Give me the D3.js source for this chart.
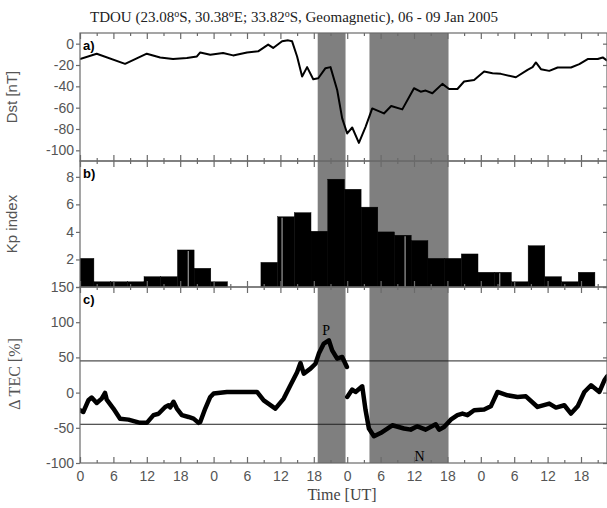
<!DOCTYPE html>
<html>
<head>
<meta charset="utf-8">
<script src="https://cdn.jsdelivr.net/npm/d3@7"></script>
<style>
  body { margin: 0; background: #fff; }
  svg { display: block; }
  .tick text { font-family: "Liberation Sans", Arial, sans-serif; font-size: 14px; fill: #555; }
</style>
</head>
<body>
<div id="chart"></div>
<script>
// Dst index [nT], hours since 06 Jan 00 UT
var dstHours = [0, 3, 8.1, 12, 14.4, 16.7, 19.2, 21, 21.6, 23.4, 25.7, 27.5, 30, 32, 33.8, 34.7, 36.3, 37.4, 38.1,
  39, 39.9, 40.8, 41.9, 42.8, 44.1, 45, 46.2, 47.1, 48, 48.9, 50.1, 51.3, 52.5, 54.6, 55.9, 57.9, 60, 61.2, 62.1,
  63.3, 65.1, 66.3, 67.8, 69, 70.8, 72.6, 74.1, 75.6, 78.3, 80.4, 81.3, 81.9, 82.8, 84.3, 85.8, 88.2, 89.7, 91.2,
  93, 93.9, 94.7];
var dstValues = [-14.4, -9.4, -18.9, -9.4, -12.9, -14.4, -13.5, -12, -8.2, -10.4, -8.8, -11, -8.2, -7.2, -0.9, -4, 2.2, 3.1, 2.2,
  -12, -30.8, -22, -33.3, -32.4, -23, -22, -43.4, -70, -84.2, -78.6, -93, -78, -60.7, -65.4, -58.5, -61.6, -41.8, -45, -44,
  -46.5, -37.7, -42.5, -42.5, -35.5, -34, -26, -27.7, -28.3, -31.5, -24.5, -22, -17.6, -23.9, -25.5, -22.3, -22.3, -19.2, -14.4,
  -14.4, -12.9, -16];

// Kp index, one value per 3-hour interval
var kpValues = [2.08, 0.38, 0.38, 0.38, 0.75, 0.75, 2.69, 1.36, 0.38, 0, 0, 1.79, 5.1, 5.4, 4.05, 7.83, 7.1, 5.8,
  4.0, 3.76, 3.37, 2.08, 2.08, 2.4, 1.07, 1.07, 0.38, 3.0, 0.75, 0.38, 1.07, 0];
var kpSeamHours = [19.45, 36.3, 58.4, 75.4];

// TEC deviation [%]; null splits the series at the data gap
var tecHours = [0, 0.6, 1.5, 2.1, 3, 3.9, 4.5, 4.8, 6, 7.2, 8.7, 10.8, 12, 13.2, 14.1, 15.3, 15.9, 16.2, 16.8, 17.4,
  18.3, 19.5, 20.4, 21.3, 21.6, 22.5, 23.4, 24, 26.4, 28.8, 31.8, 33, 35.1, 36.6, 37.8, 39, 39.6, 40.2, 41.4, 42.3,
  42.9, 43.8, 44.7, 45.3, 46.2, 47.1, 47.95, 47.97, 48, 48.9, 49.5, 50.7, 51.3, 51.9, 52.8, 54, 56.1, 58.2, 59.4, 60.6,
  62.1, 63.9, 64.5, 65.4, 66.6, 67.8, 68.7, 69.6, 70.8, 72.6, 73.8, 75, 76.8, 78.6, 80.1, 82.2, 84.3, 85.5, 87,
  88.2, 89.4, 90.6, 91.8, 93.3, 94.2, 94.7];
var tecValues = [-25, -27.5, -11, -7, -14.7, -8.5, -0.5, -10, -22.7, -37, -38.4, -43, -43, -32, -30, -20.4, -18, -21, -13, -22.7,
  -32, -34.6, -37, -43, -41.7, -22.7, -6.2, -1.4, 0.9, 0.9, 0.9, -11, -22.7, -8.5, 10.4, 29, 42, 27, 34, 41,
  55.4, 69.6, 74.3, 60, 48.3, 50.6, 36.4, null, -6.2, 4.3, 0.9, 9, -25, -51, -62, -57.4, -46.4, -51, -52.6, -47.9,
  -52.6, -45, -52.6, -48.9, -38.4, -32, -29.8, -32, -25, -24.1, -19.5, 0.9, -3.8, -6.2, -5.3, -20.4, -15.6, -21.3, -18,
  -29.8, -19.5, 0.9, 10.4, 0.9, 17.5, 23];
var tecThresholds = [45, -45];

// storm phases shaded in grey [start hour, end hour]
var shadeStart = [42.7, 52];
var shadeEnd = [47.7, 66.2];

var dstTicks = [0, -20, -40, -60, -80, -100];
var kpTicks = [0, 2, 4, 6, 8];
var tecTicks = [-100, -50, 0, 50, 100, 150];

var W = 607, H = 508;
var left = 80, right = 607;
var frameColor = "#6a6a6a";

var svg = d3.select("#chart").append("svg")
    .attr("width", W)
    .attr("height", H);

var x = d3.scaleLinear().domain([0, 94.67]).range([left, right]);

var panels = [
    { id: "a", top: 33, bottom: 161, y: d3.scaleLinear().domain([-110, 10]).range([161, 33]), ticks: dstTicks },
    { id: "b", top: 161, bottom: 287, y: d3.scaleLinear().domain([0, 9.15]).range([287, 161]), ticks: kpTicks },
    { id: "c", top: 287, bottom: 463, y: d3.scaleLinear().domain([-100, 150]).range([463, 287]), ticks: tecTicks }
];

svg.append("defs").append("clipPath")
    .attr("id", "plotClip")
    .append("rect")
    .attr("x", left).attr("y", 33)
    .attr("width", right - left).attr("height", 463 - 33);

// grey shading across all three panels
svg.append("g").selectAll("rect")
    .data(shadeStart)
    .enter()
    .append("rect")
    .attr("x", function (d) { return x(d); })
    .attr("y", 33)
    .attr("width", function (d, i) { return x(shadeEnd[i]) - x(d); })
    .attr("height", 463 - 33)
    .style("fill", "#7f7f7f");

// panel a: Dst
var pa = panels[0];
svg.append("path")
    .datum(dstHours)
    .attr("clip-path", "url(#plotClip)")
    .attr("d", d3.line()
        .x(function (d) { return x(d); })
        .y(function (d, i) { return pa.y(dstValues[i]); }))
    .style("fill", "none")
    .style("stroke", "#000")
    .style("stroke-width", 2)
    .style("stroke-linejoin", "round");

// panel b: Kp bars (3-hour bins, drawn half an hour early like the original)
var pb = panels[1];
svg.append("g")
    .attr("clip-path", "url(#plotClip)")
    .selectAll("rect")
    .data(kpValues)
    .enter()
    .append("rect")
    .attr("x", function (d, i) { return x(i * 3 - 0.5); })
    .attr("y", function (d) { return pb.y(d); })
    .attr("width", x(3) - x(0))
    .attr("height", function (d) { return pb.y(0) - pb.y(d); })
    .style("fill", "#000")
    .style("stroke", "#000")
    .style("stroke-width", 0.4);

svg.append("g").selectAll("line")
    .data(kpSeamHours)
    .enter()
    .append("line")
    .attr("x1", function (d) { return x(d); })
    .attr("x2", function (d) { return x(d); })
    .attr("y1", pb.y(0))
    .attr("y2", function (d) {
        var v = kpValues[Math.floor((d + 0.5) / 3)];
        return pb.y(v) + 1;
    })
    .style("stroke", "#9a9a9a")
    .style("stroke-width", 1.2);

// panel c: TEC
var pc = panels[2];
svg.append("g").selectAll("line")
    .data(tecThresholds)
    .enter()
    .append("line")
    .attr("x1", left).attr("x2", right)
    .attr("y1", function (d) { return pc.y(d); })
    .attr("y2", function (d) { return pc.y(d); })
    .style("stroke", "#222")
    .style("stroke-width", 1);

svg.append("path")
    .datum(tecHours)
    .attr("clip-path", "url(#plotClip)")
    .attr("d", d3.line()
        .defined(function (d, i) { return tecValues[i] !== null; })
        .x(function (d) { return x(d); })
        .y(function (d, i) { return pc.y(tecValues[i]); }))
    .style("fill", "none")
    .style("stroke", "#000")
    .style("stroke-width", 4.5)
    .style("stroke-linejoin", "round")
    .style("stroke-linecap", "round");

svg.append("text").attr("x", x(44.2)).attr("y", 335)
    .attr("text-anchor", "middle")
    .style("font-family", "'Liberation Serif', 'Times New Roman', serif")
    .style("font-size", "14px")
    .text("P");
svg.append("text").attr("x", x(61.0)).attr("y", 461)
    .attr("text-anchor", "middle")
    .style("font-family", "'Liberation Serif', 'Times New Roman', serif")
    .style("font-size", "14px")
    .text("N");

// frames, ticks and labels
var majorHours = d3.range(0, 94.67, 6);
var minorHours = d3.range(3, 94.67, 6);

panels.forEach(function (p, k) {
    svg.append("rect")
        .attr("x", left).attr("y", p.top)
        .attr("width", right - left).attr("height", p.bottom - p.top)
        .style("fill", "none")
        .style("stroke", frameColor)
        .style("stroke-width", 1.2);

    [[majorHours, 6], [minorHours, 3]].forEach(function (t) {
        var bottomAxis = d3.axisBottom(x).tickValues(t[0]).tickSize(-t[1]).tickPadding(8)
            .tickFormat(k == 2 && t[1] == 6 ? function (d) { return d % 24; } : "");
        svg.append("g")
            .attr("transform", "translate(0," + p.bottom + ")")
            .call(bottomAxis);
        svg.append("g")
            .attr("transform", "translate(0," + p.top + ")")
            .call(d3.axisTop(x).tickValues(t[0]).tickSize(-t[1]).tickFormat(""));
    });

    // Kp's "0" sits exactly under the last digit of the TEC "150" label, so only one is written
    svg.append("g")
        .attr("transform", "translate(" + left + ",0)")
        .call(d3.axisLeft(p.y).tickValues(p.ticks).tickSize(4).tickPadding(2)
            .tickFormat(function (d) { return (k == 1 && d == 0) ? "" : d; }));
    svg.append("g")
        .attr("transform", "translate(" + right + ",0)")
        .call(d3.axisRight(p.y).tickValues(p.ticks).tickSize(-4).tickFormat(""));

    svg.append("text")
        .attr("x", left + 3)
        .attr("y", p.top + 17)
        .style("font-family", "'Liberation Sans', Arial, sans-serif")
        .style("font-size", "13px")
        .style("font-weight", "bold")
        .text(p.id + ")");
});

svg.selectAll(".domain").remove();
svg.selectAll(".tick line").style("stroke", frameColor).style("stroke-width", 1.2);

// axis titles
var yTitles = [
    { text: "Dst [nT]", y: 97, font: "'Liberation Sans', Arial, sans-serif", size: "15px", x: 17 },
    { text: "Kp index", y: 224, font: "'Liberation Sans', Arial, sans-serif", size: "15px", x: 17 },
    { text: "\u0394 TEC [%]", y: 374, font: "'Liberation Serif', 'Times New Roman', serif", size: "16px", x: 20 }
];
yTitles.forEach(function (t) {
    svg.append("text")
        .attr("transform", "translate(" + t.x + "," + t.y + ") rotate(-90)")
        .attr("text-anchor", "middle")
        .style("font-family", t.font)
        .style("font-size", t.size)
        .style("fill", "#555")
        .text(t.text);
});

svg.append("text")
    .attr("x", 342).attr("y", 500)
    .attr("text-anchor", "middle")
    .style("font-family", "'Liberation Serif', 'Times New Roman', serif")
    .style("font-size", "16px")
    .style("fill", "#444")
    .text("Time [UT]");

var title = svg.append("text")
    .attr("x", 294).attr("y", 22)
    .attr("text-anchor", "middle")
    .style("font-family", "'Liberation Serif', 'Times New Roman', serif")
    .style("font-size", "15px")
    .style("fill", "#222");
var titleParts = ["TDOU (23.08", "o", "S, 30.38", "o", "E; 33.82", "o", "S, Geomagnetic), 06 - 09 Jan 2005"];
titleParts.forEach(function (s, i) {
    var ts = title.append("tspan").text(s);
    if (i % 2 == 1) ts.attr("dy", -5).style("font-size", "10px");
    else if (i > 0) ts.attr("dy", 5);
});
</script>
</body>
</html>
